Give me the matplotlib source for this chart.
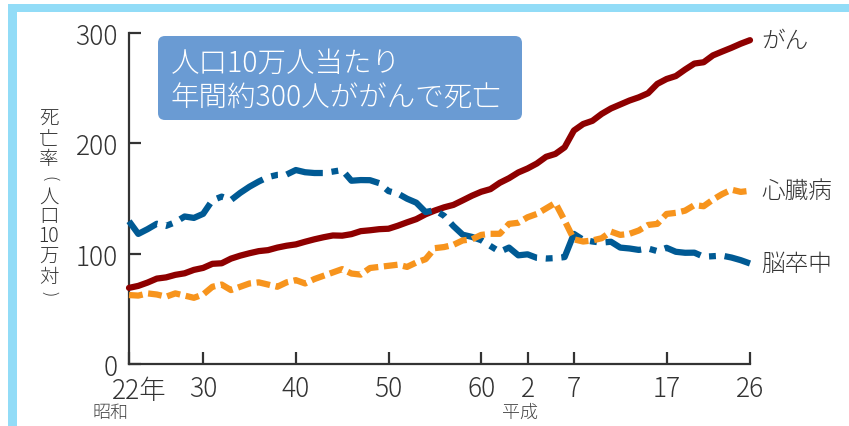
import numpy as np
import matplotlib
matplotlib.use("Agg")
import matplotlib.pyplot as plt
from matplotlib.patches import Rectangle, FancyBboxPatch
from matplotlib.transforms import IdentityTransform

plt.rcParams['font.family'] = ['Noto Sans CJK JP', 'DejaVu Sans']
plt.rcParams['font.weight'] = 'light'

# years 1947 (S22) .. 2014 (H26)
years = list(range(1947, 2015))

cancer = [69.0, 70.8, 73.8, 77.4, 78.5, 80.8, 82.2, 85.3, 87.1, 90.8,
          91.3, 95.5, 98.2, 100.4, 102.3, 103.2, 105.5, 107.2, 108.4, 110.8,
          113.0, 114.9, 116.5, 116.3, 117.7, 120.4, 121.2, 122.2, 122.6, 125.3,
          128.4, 131.3, 135.7, 139.1, 142.0, 144.2, 148.3, 152.5, 156.1, 158.5,
          164.2, 168.4, 173.6, 177.2, 181.7, 187.8, 190.4, 196.4, 211.6, 217.5,
          220.4, 226.7, 231.6, 235.2, 238.8, 241.7, 245.4, 253.9, 258.3, 261.0,
          266.9, 272.3, 273.5, 279.7, 283.2, 286.6, 290.3, 293.5]

heart = [62.5, 62.0, 64.0, 63.0, 61.0, 64.0, 62.0, 60.0, 63.0, 70.0,
         72.0, 67.0, 70.0, 73.0, 74.0, 72.0, 70.0, 74.0, 76.0, 73.0,
         77.0, 80.0, 83.0, 86.0, 82.0, 81.0, 87.0, 88.0, 89.0, 90.0,
         88.0, 92.0, 95.0, 105.0, 106.0, 108.0, 112.0, 113.0, 117.0, 118.0,
         118.0, 127.0, 128.0, 133.0, 136.0, 141.0, 146.0, 130.0, 113.0, 111.0,
         112.0, 114.0, 120.0, 117.0, 118.0, 121.0, 126.0, 127.0, 136.0, 137.0,
         139.0, 144.0, 143.0, 149.0, 154.0, 158.0, 156.0, 157.0]

stroke = [129.4, 117.9, 122.2, 127.1, 125.2, 128.5, 133.7, 132.4, 136.1, 148.4,
          151.7, 148.6, 155.1, 160.7, 165.4, 169.4, 171.4, 171.7, 175.8, 173.8,
          173.1, 173.1, 174.4, 175.8, 166.1, 166.7, 166.6, 163.9, 156.7, 154.5,
          149.8, 146.2, 137.7, 139.5, 134.3, 125.0, 117.2, 115.2, 112.2, 106.9,
          101.7, 105.5, 98.5, 99.4, 96.2, 95.6, 96.0, 96.9, 117.9, 112.6,
          111.0, 110.0, 110.8, 105.5, 104.7, 103.4, 104.7, 102.3, 105.3, 101.7,
          100.8, 100.9, 97.2, 97.7, 98.2, 96.5, 94.1, 91.1]

tick_years = [1947, 1955, 1965, 1975, 1985, 1990, 1995, 2005, 2014]
tick_labels = ['', '30', '40', '50', '60', '2', '7', '17', '26']
y_ticks = [0, 100, 200, 300]

c_cancer = '#8e0000'
c_heart = '#f7941d'
c_stroke = '#005a94'
c_text = '#333333'

W, H = 849, 427
fig = plt.figure(figsize=(W / 100, H / 100), dpi=100)

# light blue frame (top and left)
fig.add_artist(Rectangle((8 / W, 1 - 13 / H), 1, 8 / H, transform=fig.transFigure,
                         color='#92dcf7', lw=0))
fig.add_artist(Rectangle((8 / W, 0), 9 / W, 1 - 5 / H, transform=fig.transFigure,
                         color='#92dcf7', lw=0))

ax = fig.add_axes([129 / W, 1 - 365 / H, (750 - 129) / W, (365 - 34) / H])
ax.set_xlim(1947, 2014)
ax.set_ylim(0, 300)

ax.plot(years, cancer, color=c_cancer, lw=4.5, solid_capstyle='round',
        solid_joinstyle='round', clip_on=False, zorder=3)
ax.plot(years, stroke, color=c_stroke, lw=4.5, linestyle=(0, (6, 1.4, 1.1, 1.4)),
        solid_joinstyle='round', clip_on=False, zorder=4)
ax.plot(years, heart, color=c_heart, lw=4.5, linestyle=(0, (2.2, 0.9)),
        clip_on=False, zorder=5)

for name, vals in [('がん', cancer), ('心臓病', heart), ('脳卒中', stroke)]:
    ax.annotate(name, xy=(years[-1], vals[-1]), xytext=(11, 0),
                textcoords='offset pixels', va='center', ha='left',
                fontsize=17, color=c_text, annotation_clip=False)

for side in ['top', 'right']:
    ax.spines[side].set_visible(False)
for side in ['left', 'bottom']:
    ax.spines[side].set_color(c_text)
    ax.spines[side].set_linewidth(1.6)

ax.set_yticks(y_ticks)
ax.set_yticklabels([str(v) for v in y_ticks])
ax.set_xticks(tick_years)
ax.set_xticklabels(tick_labels)
ax.tick_params(direction='in', length=8.5, width=1.6, color=c_text,
               labelcolor=c_text, labelsize=19)
ax.tick_params(axis='y', pad=8)
ax.tick_params(axis='x', pad=7)

ax.annotate('22年', xy=(1947, 0), xytext=(-17, -12), textcoords='offset pixels',
            ha='left', va='top', fontsize=19, color=c_text, annotation_clip=False)

fig.text(110 / W, 1 - 413 / H, '昭和', ha='center', va='center', fontsize=13, color='#444444')
fig.text(520 / W, 1 - 413 / H, '平成', ha='center', va='center', fontsize=13, color='#444444')

# vertical y label
ylab = ['死', '亡', '率', '(', '人', '口', '10', '万', '対', ')']
ylab_y = [119, 140, 160, 179, 197, 217, 237, 257, 278, 294]
for ch, yy in zip(ylab, ylab_y):
    rot = -90 if ch in '()' else 0
    fs = 12 if ch in '()' else 14
    fig.text(49 / W, 1 - yy / H, ch, ha='center', va='center', fontsize=fs,
             rotation=rot, color=c_text)

# callout box
fig.add_artist(FancyBboxPatch((158, H - 121), 364, 84,
                              boxstyle='round,pad=0,rounding_size=7',
                              transform=IdentityTransform(), fc='#6a9bd3', ec='none'))
fig.text(171 / W, 1 - 63 / H, '人口10万人当たり', ha='left', va='center',
         fontsize=20.5, color='white')
fig.text(171 / W, 1 - 98 / H, '年間約300人ががんで死亡', ha='left', va='center',
         fontsize=20.5, color='white')

fig.savefig('out.png', dpi=100)
